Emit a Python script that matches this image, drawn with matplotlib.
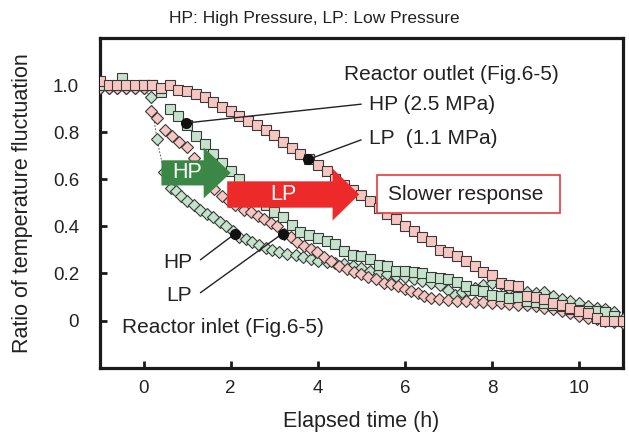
import matplotlib
matplotlib.use('Agg')
import matplotlib.pyplot as plt
from matplotlib.patches import FancyArrow, Rectangle

plt.rcParams['font.family'] = ['Liberation Sans', 'DejaVu Sans']

# Reactor outlet, LP (1.1 MPa) - pink squares
out_lp_t = [-1.0, -0.8, -0.6, -0.4, -0.2, 0.0, 0.2, 0.4, 0.6, 0.8, 1.0, 1.2, 1.4, 1.6, 1.8,
            2.0, 2.2, 2.4, 2.6, 2.8, 3.0, 3.2, 3.4, 3.6, 3.8, 4.0, 4.2, 4.4, 4.6, 4.8,
            5.0, 5.2, 5.4, 5.6, 5.8, 6.0, 6.2, 6.4, 6.6, 6.8, 7.0, 7.2, 7.4, 7.6, 7.8,
            8.0, 8.2, 8.4, 8.6, 8.8, 9.0, 9.2, 9.4, 9.6, 9.8, 10.0, 10.2, 10.4, 10.6, 10.8, 11.0]
out_lp_y = [1.02, 1.0, 1.0, 1.0, 1.0, 1.0, 1.0, 0.99, 1.0, 0.98, 0.975, 0.965, 0.95, 0.93, 0.91,
            0.89, 0.87, 0.85, 0.83, 0.81, 0.79, 0.76, 0.735, 0.71, 0.685, 0.66, 0.635, 0.6, 0.575, 0.555,
            0.535, 0.51, 0.48, 0.455, 0.43, 0.40, 0.38, 0.355, 0.34, 0.30, 0.29, 0.275, 0.255, 0.23, 0.205,
            0.195, 0.16, 0.15, 0.145, 0.105, 0.10, 0.09, 0.075, 0.065, 0.055, 0.04, 0.03, 0.01, 0.0, 0.0, 0.0]

# Reactor outlet, HP (2.5 MPa) - green squares
out_hp_t = [-1.0, -0.5, 0.0, 0.2, 0.4, 0.6, 0.8, 1.0, 1.2, 1.4, 1.6, 1.8, 2.0, 2.2, 2.4, 2.6, 2.8,
            3.0, 3.2, 3.4, 3.6, 3.8, 4.0, 4.2, 4.4, 4.6, 4.8, 5.0, 5.2, 5.4, 5.6, 5.8,
            6.0, 6.2, 6.4, 6.6, 6.8, 7.0, 7.2, 7.4, 7.6, 7.8, 8.0, 8.2, 8.4, 8.6, 8.8,
            9.0, 9.2, 9.4, 9.6, 9.8, 10.0, 10.2, 10.4, 10.6, 10.8, 11.0]
out_hp_y = [1.0, 1.03, 1.0, 1.0, 0.97, 0.90, 0.87, 0.83, 0.785, 0.75, 0.71, 0.67, 0.635, 0.60, 0.565, 0.53, 0.49,
            0.46, 0.44, 0.405, 0.375, 0.365, 0.35, 0.34, 0.325, 0.295, 0.28, 0.275, 0.26, 0.235, 0.23, 0.21,
            0.21, 0.205, 0.20, 0.185, 0.18, 0.175, 0.165, 0.145, 0.13, 0.125, 0.11, 0.105, 0.095, 0.10, 0.085,
            0.08, 0.075, 0.065, 0.06, 0.05, 0.045, 0.04, 0.04, 0.035, 0.02, 0.0]

# Reactor inlet, HP - green diamonds
in_hp_t = [-1.0, -0.8, -0.6, -0.4, -0.2, 0.0, 0.16, 0.31, 0.47, 0.62, 0.75, 0.85, 1.0, 1.15, 1.3,
           1.45, 1.6, 1.75, 1.9, 2.05, 2.2, 2.35, 2.5, 2.65, 2.8, 2.95, 3.1, 3.3, 3.5, 3.65,
           3.85, 4.0, 4.2, 4.4, 4.6, 4.8, 5.0, 5.2, 5.4, 5.6, 5.8, 6.0, 6.2, 6.4, 6.6,
           6.8, 7.0, 7.15, 7.3, 7.45, 7.6, 7.8, 8.0, 8.2, 8.4, 8.6, 8.8, 9.0, 9.2, 9.4,
           9.6, 9.8, 10.0, 10.2, 10.4, 10.6, 10.8, 11.0]
in_hp_y = [0.99, 0.99, 0.99, 0.99, 0.99, 0.99, 0.95, 0.77, 0.63, 0.565, 0.55, 0.53, 0.51, 0.49, 0.47,
           0.455, 0.44, 0.42, 0.40, 0.38, 0.355, 0.345, 0.333, 0.32, 0.31, 0.30, 0.29, 0.285, 0.28, 0.27,
           0.26, 0.255, 0.247, 0.243, 0.24, 0.232, 0.225, 0.21, 0.205, 0.197, 0.19, 0.185, 0.178, 0.17, 0.16,
           0.15, 0.13, 0.11, 0.12, 0.13, 0.14, 0.15, 0.16, 0.155, 0.14, 0.13, 0.12, 0.115, 0.12, 0.105,
           0.09, 0.085, 0.075, 0.06, 0.055, 0.047, 0.035, 0.005]

# Reactor inlet, LP - pink diamonds
in_lp_t = [-1.0, -0.8, -0.6, -0.4, -0.2, 0.0, 0.16, 0.31, 0.5, 0.66, 0.81, 0.99, 1.15, 1.3, 1.45,
           1.62, 1.8, 1.95, 2.1, 2.3, 2.46, 2.62, 2.77, 2.92, 3.07, 3.22, 3.38, 3.53, 3.69, 3.84,
           3.99, 4.15, 4.3, 4.49, 4.68, 4.84, 4.99, 5.16, 5.33, 5.52, 5.67, 5.83, 6.0, 6.14, 6.3,
           6.44, 6.6, 6.79, 7.0, 7.2, 7.4, 7.6, 7.8, 8.0, 8.2, 8.4, 8.6, 8.8, 9.0, 9.2,
           9.4, 9.6, 9.8, 10.0, 10.2, 10.4, 10.6, 10.8, 11.0]
in_lp_y = [0.99, 0.99, 0.99, 0.99, 0.99, 0.99, 0.89, 0.86, 0.81, 0.785, 0.76, 0.74, 0.69, 0.64, 0.60,
           0.56, 0.53, 0.51, 0.49, 0.47, 0.46, 0.445, 0.43, 0.415, 0.40, 0.37, 0.354, 0.335, 0.318, 0.305,
           0.29, 0.27, 0.254, 0.233, 0.218, 0.205, 0.197, 0.185, 0.176, 0.16, 0.155, 0.147, 0.135, 0.126, 0.115,
           0.105, 0.097, 0.09, 0.087, 0.085, 0.082, 0.08, 0.078, 0.075, 0.073, 0.07, 0.068, 0.065, 0.06, 0.055,
           0.048, 0.04, 0.03, 0.02, 0.012, 0.005, 0.0, -0.005, -0.01]

# highlighted points (time, ratio)
dot_t = [0.97, 3.78, 2.09, 3.19]
dot_y = [0.84, 0.685, 0.368, 0.37]

pink = '#f8c6c1'
green = '#c4e3cb'
edge = '#3a3a3a'
txt = '#222222'
fs = 15

fig = plt.figure(figsize=(6.29, 4.36), dpi=100)
ax = fig.add_axes([0.159, 0.157, 0.831, 0.755])

ax.plot(in_hp_t[5:10], in_hp_y[5:10], ls=(0, (2, 2)), lw=0.6, color=edge, zorder=2)
ax.plot(in_hp_t, in_hp_y, ls='none', marker='D', ms=6, mfc=green, mec=edge, mew=0.8, zorder=3)
ax.plot(in_lp_t, in_lp_y, ls='none', marker='D', ms=6, mfc=pink, mec=edge, mew=0.8, zorder=4)
ax.plot(out_hp_t, out_hp_y, ls='none', marker='s', ms=6.5, mfc=green, mec=edge, mew=0.8, zorder=5)
ax.plot(out_lp_t, out_lp_y, ls='none', marker='s', ms=6.5, mfc=pink, mec=edge, mew=0.8, zorder=6)

# leader lines
ax.plot([dot_t[0], 4.99], [dot_y[0], 0.92], color=txt, lw=1, zorder=7)
ax.plot([dot_t[1], 4.99], [dot_y[1], 0.768], color=txt, lw=1, zorder=7)
ax.plot([1.31, dot_t[2]], [0.259, dot_y[2]], color=txt, lw=1, zorder=7)
ax.plot([1.31, dot_t[3]], [0.119, dot_y[3]], color=txt, lw=1, zorder=7)
ax.plot(dot_t, dot_y, ls='none', marker='o', ms=7, color='#111111', zorder=8)

# arrows
ax.add_patch(FancyArrow(0.41, 0.628, 1.59, 0, width=0.107, head_width=0.217, head_length=0.62,
                        length_includes_head=True, color='#3b8745', lw=0, zorder=9))
ax.add_patch(FancyArrow(1.92, 0.536, 3.03, 0, width=0.112, head_width=0.221, head_length=0.61,
                        length_includes_head=True, color='#ec2a2a', lw=0, zorder=9))
ax.text(1.0, 0.628, 'HP', color='white', fontsize=15.5, ha='center', va='center', zorder=10)
ax.text(3.22, 0.536, 'LP', color='white', fontsize=15.5, ha='center', va='center', zorder=10)

ax.add_patch(Rectangle((5.37, 0.458), 4.18, 0.16, facecolor='white', edgecolor='#e8393a', lw=1.2, zorder=9))
ax.text(5.61, 0.538, 'Slower response', fontsize=fs, color=txt, ha='left', va='center', zorder=10)

ax.text(4.6, 1.047, 'Reactor outlet (Fig.6-5)', fontsize=fs, color=txt, ha='left', va='center')
ax.text(5.17, 0.917, 'HP (2.5 MPa)', fontsize=fs, color=txt, ha='left', va='center')
ax.text(5.17, 0.775, 'LP  (1.1 MPa)', fontsize=fs, color=txt, ha='left', va='center')
ax.text(1.12, 0.247, 'HP', fontsize=fs, color=txt, ha='right', va='center')
ax.text(1.12, 0.105, 'LP', fontsize=fs, color=txt, ha='right', va='center')
ax.text(-0.49, -0.03, 'Reactor inlet (Fig.6-5)', fontsize=fs, color=txt, ha='left', va='center')

ax.set_xlim(-1, 11)
ax.set_ylim(-0.2, 1.2)
ax.set_xticks([0, 2, 4, 6, 8, 10])
ax.set_yticks([0, 0.2, 0.4, 0.6, 0.8, 1.0])
ax.set_yticklabels(['0', '0.2', '0.4', '0.6', '0.8', '1.0'])
for s in ax.spines.values():
    s.set_linewidth(2.3)
    s.set_color('#1a1a1a')
ax.tick_params(direction='in', length=5, width=2, color='#1a1a1a', labelsize=13.5, labelcolor=txt)
ax.tick_params(axis='y', pad=15)
ax.tick_params(axis='x', pad=9)

ax.set_xlabel('Elapsed time (h)', fontsize=15.5, color=txt, labelpad=10)
ax.set_ylabel('Ratio of temperature fluctuation', fontsize=15.5, color=txt, labelpad=14)
fig.text(0.5, 0.958, 'HP: High Pressure, LP: Low Pressure', fontsize=12.5, color=txt, ha='center', va='center')

fig.savefig('out.png', dpi=100)
